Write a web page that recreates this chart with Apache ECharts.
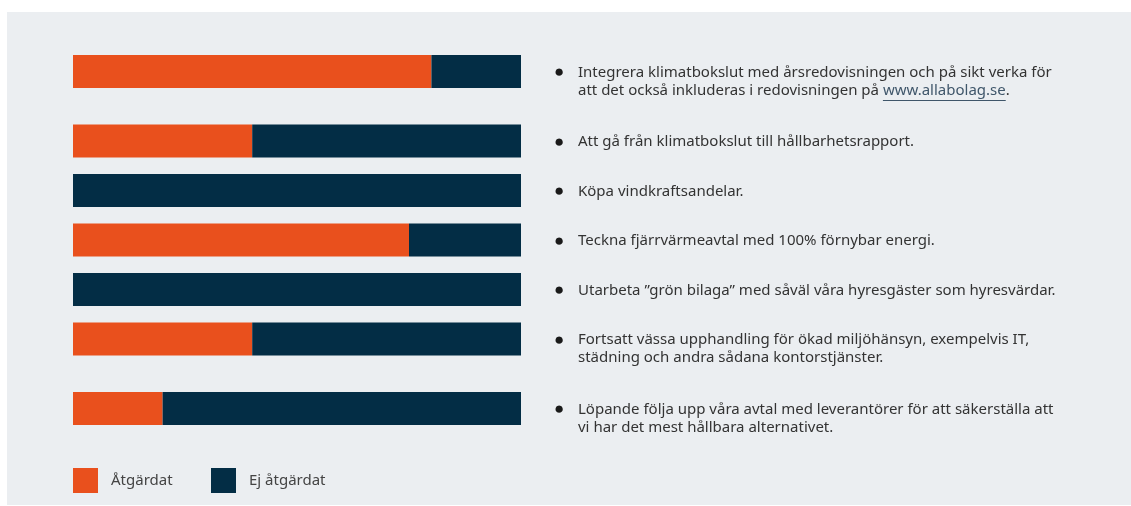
<!DOCTYPE html>
<html>
<head>
<meta charset="utf-8">
<script src="https://cdn.jsdelivr.net/npm/echarts@6/dist/echarts.min.js"></script>
<style>
  html, body { margin: 0; padding: 0; background: #ffffff; }
  #chart { width: 1131px; height: 506px; }
</style>
</head>
<body>
<div id="chart"></div>
<script>
// actions (one per row, \n = line break in the text)
const actions = [
  'Integrera klimatbokslut med årsredovisningen och på sikt verka för\natt det också inkluderas i redovisningen på www.allabolag.se.',
  'Att gå från klimatbokslut till hållbarhetsrapport.',
  'Köpa vindkraftsandelar.',
  'Teckna fjärrvärmeavtal med 100% förnybar energi.',
  'Utarbeta ”grön bilaga” med såväl våra hyresgäster som hyresvärdar.',
  'Fortsatt vässa upphandling för ökad miljöhänsyn, exempelvis IT,\nstädning och andra sådana kontorstjänster.',
  'Löpande följa upp våra avtal med leverantörer för att säkerställa att\nvi har det mest hållbara alternativet.'
];
// share (%) per action
const done = [80, 40, 0, 75, 0, 40, 20];
const notDone = [20, 60, 100, 25, 100, 60, 80];
const seriesNames = ['Åtgärdat', 'Ej åtgärdat'];
const link = 'www.allabolag.se';

const ORANGE = '#e9501d';
const NAVY = '#032d45';
const LINK = '#3f566a';
const FONT = 'Noto Sans';
const FS = 15;

const chart = echarts.init(document.getElementById('chart'));

// row layout: rows with two text lines take a bit more room
const barH = 33;
const rowTops = [];
let y = 55;
actions.forEach((a) => {
  rowTops.push(y);
  y += 49.5 + (a.split('\n').length - 1) * 20;
});

const labelFormatter = (value) => {
  const lines = value.split('\n');
  const pad = lines.slice(1).map(() => '').join('\n');
  const body = lines
    .map((line, i) => {
      const txt = line.includes(link)
        ? '{txt|' + line.replace(link, '}{lnk|' + link + '}{txt|') + '}'
        : '{txt|' + line + '}';
      return (i === 0 ? '{dot|●}' : '{sp|\u00a0}') + txt;
    })
    .join('\n');
  return lines.length > 1 ? pad + '\n' + body : body;
};

const grids = [];
const xAxes = [];
const yAxes = [];
const series = [];
actions.forEach((a, i) => {
  grids.push({ left: 73, width: 448, top: rowTops[i], height: barH });
  xAxes.push({ type: 'value', gridIndex: i, min: 0, max: 100, show: false });
  yAxes.push({
    type: 'category',
    gridIndex: i,
    data: [a],
    position: 'right',
    axisLine: { show: false },
    axisTick: { show: false },
    splitLine: { show: false },
    axisLabel: {
      margin: 33,
      formatter: labelFormatter,
      lineHeight: 18,
      rich: {
        dot: { width: 24, fontSize: 17, color: '#1a1a1a', fontFamily: FONT, lineHeight: 18, padding: [2, 0, 0, 0] },
        sp: { width: 24, fontSize: FS, lineHeight: 18 },
        txt: { fontSize: FS, color: '#333333', fontFamily: FONT, lineHeight: 18, padding: [2, 0, 0, 0] },
        lnk: { fontSize: FS, color: LINK, fontFamily: FONT, lineHeight: 18, padding: [2, 0, 0, 0] }
      }
    }
  });
  series.push({
    name: seriesNames[0],
    type: 'bar',
    xAxisIndex: i,
    yAxisIndex: i,
    stack: 'row' + i,
    barWidth: '100%',
    itemStyle: { color: ORANGE },
    data: [done[i]]
  });
  series.push({
    name: seriesNames[1],
    type: 'bar',
    xAxisIndex: i,
    yAxisIndex: i,
    stack: 'row' + i,
    barWidth: '100%',
    itemStyle: { color: NAVY },
    data: [notDone[i]]
  });
});

// underline under the link, measured from the text itself
const ctx = document.createElement('canvas').getContext('2d');
ctx.font = FS + 'px "' + FONT + '"';
const linkRow = actions.findIndex((a) => a.includes(link));
const linkLine = actions[linkRow].split('\n')[1];
const textX = 521 + 33 + 24;
const ulX = textX + ctx.measureText(linkLine.slice(0, linkLine.indexOf(link))).width;
const ulW = ctx.measureText(link).width;
const ulY = Math.round(rowTops[linkRow] + barH / 2 + 18 + 10) + 0.5;

const legendBase = {
  top: 468,
  padding: 0,
  orient: 'horizontal',
  icon: 'rect',
  itemWidth: 25,
  itemHeight: 25,
  textStyle: { fontSize: FS, color: '#444444', fontFamily: FONT, padding: [0, 0, 0, 8] }
};

chart.setOption({
  animation: false,
  textStyle: { fontFamily: FONT },
  graphic: [
    {
      type: 'rect',
      z: -10,
      silent: true,
      shape: { x: 7, y: 12, width: 1124, height: 493 },
      style: { fill: '#ebeef1' }
    },
    {
      type: 'line',
      silent: true,
      shape: { x1: ulX, y1: ulY, x2: ulX + ulW, y2: ulY },
      style: { stroke: LINK, lineWidth: 1 }
    }
  ],
  legend: [
    Object.assign({}, legendBase, { left: 73, data: [seriesNames[0]] }),
    Object.assign({}, legendBase, { left: 211, data: [seriesNames[1]] })
  ],
  grid: grids,
  xAxis: xAxes,
  yAxis: yAxes,
  series: series
});
</script>
</body>
</html>
